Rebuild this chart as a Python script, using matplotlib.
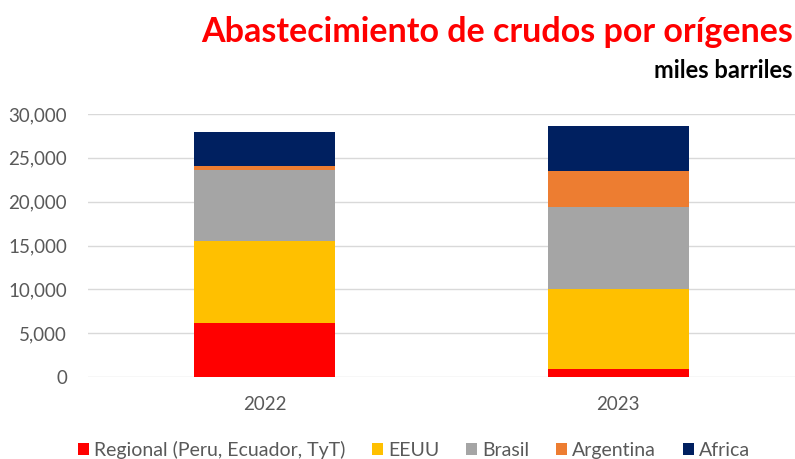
import matplotlib
matplotlib.use("Agg")
import matplotlib.pyplot as plt
from matplotlib.ticker import FuncFormatter

plt.rcParams['font.family'] = ['Lato', 'DejaVu Sans']

years = ['2022', '2023']
regional = [6160, 910]
eeuu = [9310, 9080]
brasil = [8100, 9400]
argentina = [450, 4110]
africa = [3930, 5090]

series = [
    ('Regional (Peru, Ecuador, TyT)', regional, '#ff0000'),
    ('EEUU', eeuu, '#ffc000'),
    ('Brasil', brasil, '#a5a5a5'),
    ('Argentina', argentina, '#ed7d31'),
    ('Africa', africa, '#002060'),
]

fig = plt.figure(figsize=(7.95, 4.59), dpi=100)
ax = fig.add_axes([88 / 795, 1 - 377 / 459, 707 / 795, 263 / 459])

bottom = [0, 0]
x = list(range(len(years)))
for name, vals, color in series:
    ax.bar(x, vals, width=0.4, bottom=bottom, color=color, label=name, zorder=3)
    bottom = [b + v for b, v in zip(bottom, vals)]

ax.set_xlim(-0.5, 1.5)
ax.set_ylim(0, 30000)
ax.set_yticks(range(0, 30001, 5000))
ax.yaxis.set_major_formatter(FuncFormatter(lambda v, p: f'{int(v):,}'))
ax.set_xticks(x)
ax.set_xticklabels(years)
ax.grid(axis='y', color='#d9d9d9', linewidth=1, zorder=0)
for s in ax.spines.values():
    s.set_visible(False)
ax.tick_params(length=0, labelsize=13.5, colors='#595959')
ax.tick_params(axis='y', pad=15)
ax.tick_params(axis='x', pad=14)

fig.text(793 / 795, 1 - 32 / 459, 'Abastecimiento de crudos por orígenes',
         ha='right', va='center', color='#ff0000', fontsize=24.5, fontweight='bold')
fig.text(793 / 795, 1 - 70 / 459, 'miles barriles',
         ha='right', va='center', color='black', fontsize=17, fontweight='bold')

fig.legend(loc='center', bbox_to_anchor=(414 / 795, 1 - 450 / 459), ncol=5,
           frameon=False, fontsize=14, handlelength=0.55, handleheight=0.55,
           handletextpad=0.25, columnspacing=1.4, labelcolor='#595959')

fig.savefig('out.png', dpi=100)
